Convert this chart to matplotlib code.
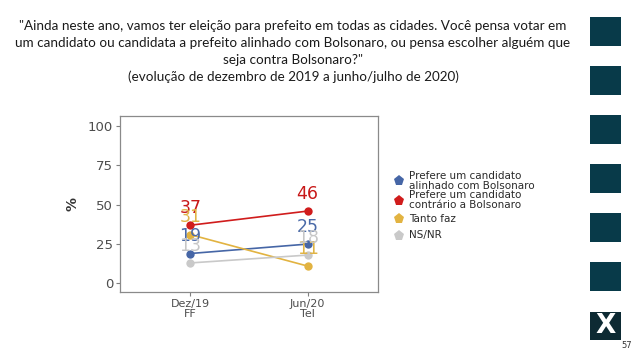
import matplotlib
matplotlib.use("Agg")
import matplotlib.pyplot as plt
from matplotlib.patches import Rectangle

periods = ["Dez/19\nFF", "Jun/20\nTel"]
series_names = ["Prefere um candidato\nalinhado com Bolsonaro",
                "Prefere um candidato\ncontrário a Bolsonaro",
                "Tanto faz", "NS/NR"]
alinhado = [19, 25]
contrario = [37, 46]
tanto_faz = [31, 11]
nsnr = [13, 18]
yticks = [0, 25, 50, 75, 100]

values = [alinhado, contrario, tanto_faz, nsnr]
colors = ["#4666a6", "#d01c1c", "#e2b341", "#c9c9c9"]
label_colors = ["#4a6aa8", "#c81818", "#e0b446", "#c6c6c6"]

title = ('"Ainda neste ano, vamos ter eleição para prefeito em todas as cidades. Você pensa votar em\n'
         'um candidato ou candidata a prefeito alinhado com Bolsonaro, ou pensa escolher alguém que\n'
         'seja contra Bolsonaro?"\n'
         '(evolução de dezembro de 2019 a junho/julho de 2020)')

fig = plt.figure(figsize=(6.38, 3.59), dpi=100)
fig.patch.set_facecolor("white")

fig.text(293 / 638, 0.943, title, ha="center", va="top", fontsize=9.75,
         family=["Lato", "DejaVu Sans"], color="#1a1a1a", linespacing=1.46)

ax = fig.add_axes([0.1881, 0.1866, 0.4044, 0.4903])
x = [1, 2]
draw_order = [3, 0, 2, 1]
for i in draw_order:
    ax.plot(x, values[i], color=colors[i], lw=1.2, marker="o", ms=6,
            markeredgewidth=0, zorder=2 + i * 0.1)
for i in [1, 2, 0, 3]:
    for xi, v in zip(x, values[i]):
        ax.text(xi, v + 11, str(v), ha="center", va="center", fontsize=12.5,
                color=label_colors[i], family="DejaVu Sans", zorder=5)

ax.set_xlim(0.4, 2.6)
ax.set_ylim(-5.5, 106.5)
ax.set_xticks(x)
ax.set_xticklabels(periods, fontsize=8, color="#4d4d4d", linespacing=1.05)
ax.set_yticks(yticks)
ax.set_yticklabels([str(t) for t in yticks], fontsize=9.5, color="#4d4d4d")
ax.tick_params(axis="both", length=3, color="#7f7f7f", width=0.8, pad=2)
for s in ax.spines.values():
    s.set_color("#8a8a8a")
    s.set_linewidth(0.9)
ax.set_ylabel("%", fontsize=10, fontweight="bold", color="#333333", labelpad=6)

# legend (manual)
leg_marker_y = [181, 201, 219, 236]
leg_text_y = [181, 200, 219, 235]
for i in range(4):
    fy = 1 - leg_marker_y[i] / 359
    ty = 1 - leg_text_y[i] / 359
    fig.add_artist(plt.Line2D([399 / 638], [fy], marker="p", ms=8, color=colors[i],
                              markeredgewidth=0, transform=fig.transFigure))
    fig.text(409 / 638, ty, series_names[i], ha="left", va="center", fontsize=7.5,
             color="#2a2a2a", linespacing=0.95)

# right-side decorative squares
sq_tops = [17, 66, 115, 164, 213, 262]
for t in sq_tops:
    fig.add_artist(Rectangle((590 / 638, 1 - (t + 29) / 359), 31 / 638, 29 / 359,
                             transform=fig.transFigure, color="#083a49", lw=0))
fig.add_artist(Rectangle((590 / 638, 1 - 340 / 359), 31 / 638, 28 / 359,
                         transform=fig.transFigure, color="#0d2a33", lw=0))
fig.text(605.5 / 638, 1 - 326 / 359, "X", ha="center", va="center", fontsize=19,
         fontweight="heavy", color="white", family="DejaVu Sans")
fig.text(627 / 638, 1 - 345 / 359, "57", ha="center", va="center", fontsize=6,
         color="#333333")

fig.savefig("out.png", dpi=100)
